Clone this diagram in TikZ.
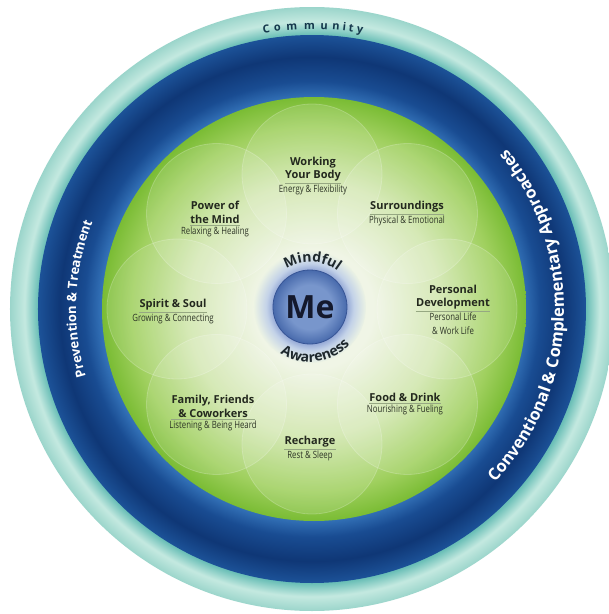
\documentclass[tikz,border=0pt]{standalone}
\usepackage{fontspec}
\setmainfont{Open Sans}
\newfontfamily\subfont[FakeStretch=0.78]{Open Sans}
\usetikzlibrary{positioning,decorations.text}

\definecolor{tealA}{RGB}{105,190,182}
\definecolor{tealB}{RGB}{196,233,224}
\definecolor{tealC}{RGB}{155,213,203}
\definecolor{blueA}{RGB}{50,112,182}
\definecolor{blueB}{RGB}{25,76,146}
\definecolor{blueC}{RGB}{15,55,118}
\definecolor{blueD}{RGB}{28,82,152}
\definecolor{grA}{RGB}{240,245,230}
\definecolor{grB}{RGB}{208,230,172}
\definecolor{grC}{RGB}{160,208,95}
\definecolor{grD}{RGB}{122,188,52}
\definecolor{meA}{RGB}{120,150,204}
\definecolor{meB}{RGB}{72,106,172}
\definecolor{haloA}{RGB}{150,170,215}
\definecolor{haloB}{RGB}{195,210,232}
\definecolor{haloC}{RGB}{236,243,228}
\definecolor{meedge}{RGB}{55,85,150}
\definecolor{mecol}{RGB}{20,25,45}
\definecolor{titlecol}{RGB}{35,40,30}
\definecolor{subcol}{RGB}{45,52,38}
\definecolor{sepcol}{RGB}{150,168,130}
\definecolor{arccol}{RGB}{30,40,45}
\definecolor{commcol}{RGB}{20,55,75}

\pgfdeclareradialshading{tealring}{\pgfpointorigin}{color(0bp)=(tealA); color(22.7bp)=(tealA); color(23.8bp)=(tealB); color(25bp)=(tealC); color(50bp)=(tealC)}
\pgfdeclareradialshading{bluering}{\pgfpointorigin}{color(0bp)=(blueA); color(19.3bp)=(blueA); color(20.8bp)=(blueB); color(23bp)=(blueC); color(25bp)=(blueD); color(50bp)=(blueD)}
\pgfdeclareradialshading{greendisc}{\pgfpointorigin}{color(0bp)=(grA); color(7bp)=(grA); color(15bp)=(grB); color(21.5bp)=(grC); color(25bp)=(grD); color(50bp)=(grD)}
\pgfdeclareradialshading{meball}{\pgfpointorigin}{color(0bp)=(meA); color(15bp)=(meA); color(25bp)=(meB); color(50bp)=(meB)}
\pgfdeclareradialshading{halo}{\pgfpointorigin}{color(0bp)=(haloA); color(16.5bp)=(haloA); color(19.5bp)=(haloB); color(25bp)=(haloC); color(50bp)=(haloC)}

\begin{document}
\begin{tikzpicture}[x=1pt,y=1pt,
  ttl/.style={font=\bfseries\fontsize{11}{13.5}\selectfont, text=titlecol, align=center, inner xsep=0pt, inner ysep=1.5pt},
  sub/.style={font=\subfont\fontsize{10}{14}\selectfont, text=subcol, align=center, inner xsep=0pt, inner ysep=1.5pt},
  sep/.style={draw=sepcol, line width=0.5pt},
  petal/.style={fill=white, fill opacity=0.13, draw=white, draw opacity=0.22, line width=0.8pt}]

\useasboundingbox (-312,-305) rectangle (297,309);
\fill[white] (-312,-305) rectangle (297,309);
\shade[shading=tealring] (0,0) circle (302);
\shade[shading=bluering] (0,0) circle (274);
\shade[shading=greendisc] (2,0) circle (212);
\foreach \a in {90,45,...,-225}
  \draw[petal] (\a:135) circle (70);

\shade[shading=halo] (-2,2) circle (56);
\node[circle, shade, shading=meball, draw=meedge, line width=0.8pt, minimum size=74pt, inner sep=0pt,
  font=\bfseries\fontsize{32}{32}\selectfont, text=mecol] (me) at (-2,2) {Me};

\path[decorate, decoration={text along path, text align=center, text color=arccol,
  text={|\bfseries\fontsize{14}{14}\selectfont|Mindful}}]
  ([shift={(170:45)}]me.center) arc[start angle=170, end angle=4, radius=45];
\path[decorate, decoration={text along path, text align=center, text color=arccol,
  text={|\bfseries\fontsize{14}{14}\selectfont|Awareness}}]
  ([shift={(190:55)}]me.center) arc[start angle=190, end angle=364, radius=55];

\path[decorate, decoration={text along path, text align=center, text color=white,
  text={|\bfseries\fontsize{13}{13}\selectfont|Prevention {\&} Treatment}}]
  (230:236) arc[start angle=230, end angle=125, radius=236];
\path[decorate, decoration={text along path, text align=center, text color=white,
  text={|\bfseries\fontsize{16.5}{16.5}\selectfont|Conventional {\&} Complementary Approaches}}]
  (-75:252) arc[start angle=-75, end angle=71, radius=252];
\path[decorate, decoration={text effects along path, text={Community},
  text effects/.cd, text along path, fit text to path,
  characters={text=commcol, font=\bfseries\fontsize{11}{11}\selectfont}}]
  (100:280) arc[start angle=100, end angle=79.6, radius=280];

\node[ttl, above] (wyb) at (1,126) {Working\\Your Body};
\node[sub, below] (wybs) at (1,126) {Energy \& Flexibility};
\draw[sep] (wyb.south west) -- (wyb.south east);

\node[ttl, above] (sur) at (95,95) {Surroundings};
\node[sub, below] (surs) at (95,95) {Physical \& Emotional};
\draw[sep] (sur.south west) -- (sur.south east);

\node[ttl, above] (pow) at (-97,84) {Power of\\the Mind};
\node[sub, below] (pows) at (-97,84) {Relaxing \& Healing};
\draw[sep] (pow.south west) -- (pow.south east);

\node[ttl, above] (spi) at (-139,-3) {Spirit \& Soul};
\node[sub, below] (spis) at (-139,-3) {Growing \& Connecting};
\draw[sep] (spi.south west) -- (spi.south east);

\node[ttl, above] (dev) at (141,-2) {Personal\\Development};
\node[sub, below] (devs) at (141,-2) {Personal Life\\\& Work Life};
\draw[sep] (dev.south west) -- (dev.south east);

\node[ttl, above] (fam) at (-99,-110) {Family, Friends\\\& Coworkers};
\node[sub, below] (fams) at (-99,-110) {Listening \& Being Heard};
\draw[sep] (fam.south west) -- (fam.south east);

\node[ttl, above] (food) at (93,-94) {Food \& Drink};
\node[sub, below] (foods) at (93,-94) {Nourishing \& Fueling};
\draw[sep] (food.south west) -- (food.south east);

\node[ttl, above] (rec) at (-2,-140) {Recharge};
\node[sub, below] (recs) at (-2,-140) {Rest \& Sleep};
\draw[sep] (rec.south west) -- (rec.south east);
\end{tikzpicture}
\end{document}
